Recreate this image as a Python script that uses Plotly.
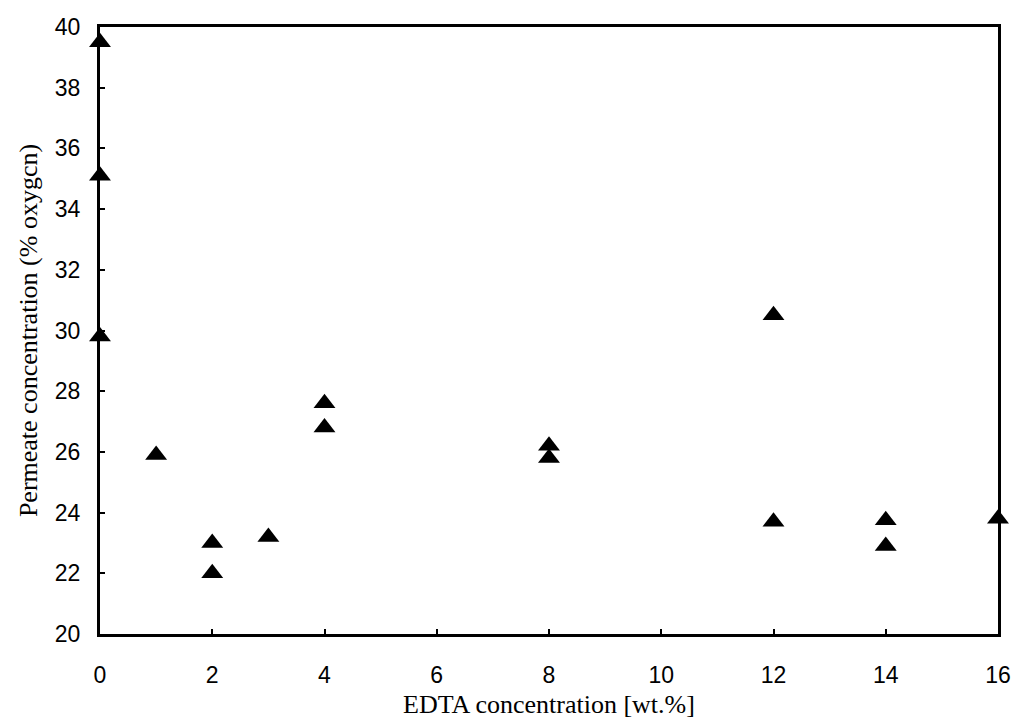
import plotly.graph_objects as go

# EDTA concentration in the casting solution [wt.%]
edta_wt = [0, 0, 0, 1, 2, 2, 3, 4, 4, 8, 8, 12, 12, 14, 14, 16]
# Oxygen content of the permeate [%]
permeate_o2 = [39.5, 35.1, 29.8, 25.9, 23.0, 22.0, 23.2, 27.6, 26.8,
               26.2, 25.8, 30.5, 23.7, 23.75, 22.9, 23.8]

x_ticks = [0, 2, 4, 6, 8, 10, 12, 14, 16]
y_ticks = [20, 22, 24, 26, 28, 30, 32, 34, 36, 38, 40]

fig = go.Figure(
    go.Scatter(
        x=edta_wt,
        y=permeate_o2,
        mode="markers",
        marker=dict(symbol="triangle-up", size=19, color="black",
                    line=dict(width=0)),
        cliponaxis=False,
        showlegend=False,
    )
)

tick_font = dict(family="Liberation Sans, Arial, sans-serif", size=23, color="black")
title_font = dict(family="Liberation Serif, Times New Roman, serif", size=26, color="black")

fig.update_xaxes(
    range=[0, 16],
    tickvals=x_ticks,
    ticktext=[str(v) for v in x_ticks],
    ticks="inside", ticklen=5, tickwidth=1.5, tickcolor="black",
    ticklabelstandoff=18,
    showline=True, linewidth=3, linecolor="black", mirror=True,
    showgrid=False, zeroline=False,
    tickfont=tick_font,
    title=dict(text="EDTA concentration [wt.%]", font=title_font, standoff=9),
)
fig.update_yaxes(
    range=[20, 40],
    tickvals=y_ticks,
    ticktext=[str(v) for v in y_ticks],
    ticks="inside", ticklen=5, tickwidth=1.5, tickcolor="black",
    ticklabelstandoff=12,
    showline=True, linewidth=3, linecolor="black", mirror=True,
    showgrid=False, zeroline=False,
    tickfont=tick_font,
    title=dict(text="Permeate concentration (% oxygcn)", font=title_font, standoff=10),
)

fig.update_layout(
    width=1034, height=727,
    margin=dict(l=100, r=36, t=27, b=93),
    paper_bgcolor="white", plot_bgcolor="white",
)

fig.write_html("out.html")
